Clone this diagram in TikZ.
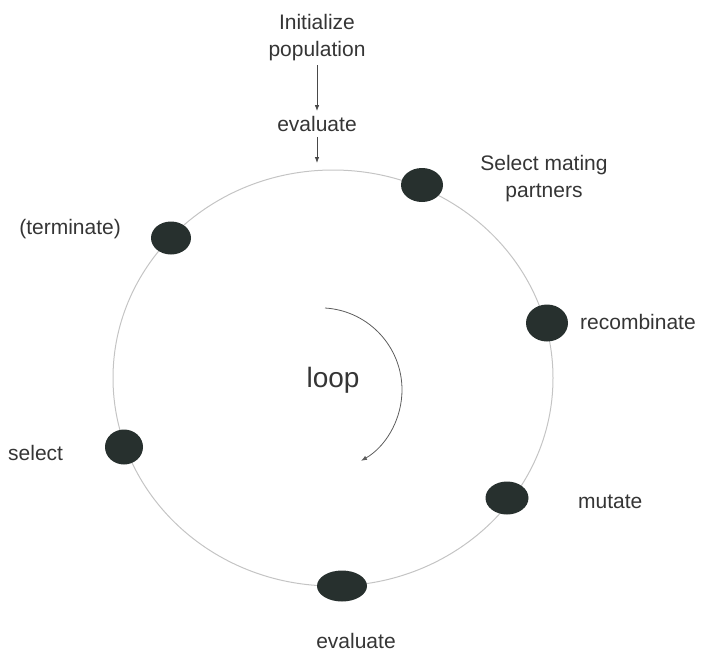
\documentclass[tikz,border=0pt]{standalone}
\usepackage{fontspec}
\setmainfont{Liberation Sans}
\usepackage{tikz}
\usetikzlibrary{shapes.geometric,arrows.meta}

\definecolor{blobcol}{HTML}{27302E}
\definecolor{txtcol}{HTML}{353535}
\definecolor{ringcol}{HTML}{C4C4C4}

\begin{document}
\begin{tikzpicture}[x=1pt,y=-1pt,
		font=\fontsize{21pt}{27pt}\selectfont,
		blob/.style={ellipse,fill=blobcol,draw=none,inner sep=0,minimum width=42pt,minimum height=34pt},
		lbl/.style={text=txtcol,inner sep=0},
		flow/.style={draw=txtcol!90,line width=0.8pt,-{Latex[length=6pt,width=4.5pt]}}
		]
				\useasboundingbox (0,0) rectangle (701,654);
				% the ring
				\draw[ringcol,line width=1pt] (333,378) ellipse [x radius=220pt,y radius=208pt];
				% blobs on the ring
				\node[blob] (mate) at (422,185) {};
				\node[blob,minimum width=40pt,minimum height=33pt] (term) at (171,238) {};
				\node[blob,minimum height=37pt] (recomb) at (547,323) {};
				\node[blob,minimum width=38pt,minimum height=35pt] (sel) at (124,447) {};
				\node[blob,minimum width=43pt,minimum height=33pt] (mut) at (507,498) {};
				\node[blob,minimum width=50pt,minimum height=31pt] (evalB) at (342,586) {};
				% labels
				\node[lbl,align=center,inner sep=4pt] (init) at (317,38) {Initialize\\population};
				\node[lbl,inner sep=5pt] (evalT) at (317,124) {evaluate};
				\coordinate (top) at (317,163);
				\node[lbl,align=center] (mateL) at (544,179) {Select mating\\partners};
				\node[lbl,anchor=east] (termL) at (121,229) {(terminate)};
				\node[lbl,anchor=west] (recombL) at (580,322) {recombinate};
				\node[lbl,anchor=west] (selL) at (8,453) {select};
				\node[lbl,anchor=west] (mutL) at (578,502) {mutate};
				\node[lbl] (evalBL) at (356,641) {evaluate};
				\node[lbl,font=\fontsize{28pt}{32pt}\selectfont] (loopL) at (333,380) {loop};
				% connectors
				\draw[flow] (init.south) -- (evalT.north);
				\draw[flow] (evalT.south) -- (top);
				\draw[flow,draw=txtcol!80] (325,308) arc[start angle=86.5,end angle=-60,radius=82pt];
			\end{tikzpicture}
\end{document}
